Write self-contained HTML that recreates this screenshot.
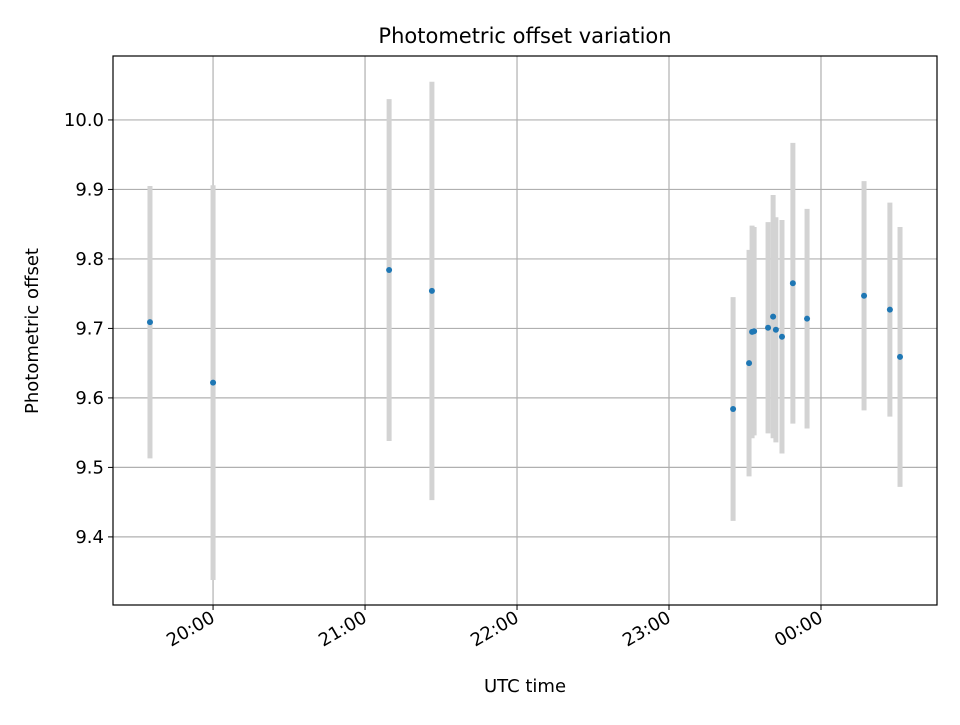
<!DOCTYPE html>
<html><head><meta charset="utf-8"><style>
body{margin:0;background:#fff;font-family:"Liberation Sans","DejaVu Sans",sans-serif}
svg text{font-family:"DejaVu Sans","Liberation Sans",sans-serif;fill:#000}
</style></head><body>
<svg id="chart" width="960" height="720" xmlns="http://www.w3.org/2000/svg">
<rect width="960" height="720" fill="#fff"/>
<g id="grid"></g><g id="bars"></g><g id="pts"></g><g id="axes"></g>
<text x="525" y="43" style="font-size:21px" text-anchor="middle">Photometric offset variation</text>
<text x="525" y="692" style="font-size:18px" text-anchor="middle">UTC time</text>
<text transform="translate(38,331) rotate(-90)" style="font-size:18px" text-anchor="middle">Photometric offset</text>
</svg>
<script>
// minutes relative to 20:00 UTC
const times=[-24.9,0,69.5,86.4,205.3,211.6,212.8,213.6,219.1,221.1,222.2,224.6,228.9,234.5,257.0,267.2,271.2];
const offsets=[9.709,9.622,9.784,9.754,9.584,9.650,9.695,9.696,9.701,9.717,9.698,9.688,9.765,9.714,9.747,9.727,9.659];
const errors=[0.196,0.284,0.246,0.301,0.161,0.163,0.153,0.150,0.152,0.175,0.162,0.168,0.202,0.158,0.165,0.154,0.187];
const xTicks=[0,60,120,180,240];
const xTickLabels=["20:00","21:00","22:00","23:00","00:00"];
const yTicks=[9.4,9.5,9.6,9.7,9.8,9.9,10.0];
const L=113,R=937,T=56,B=605;
const xMin=-39.5,xMax=285.8,yMin=9.302,yMax=10.092;
const X=v=>L+(v-xMin)/(xMax-xMin)*(R-L);
const Y=v=>B-(v-yMin)/(yMax-yMin)*(B-T);
const NS="http://www.w3.org/2000/svg";
function mk(p,tag,attrs){const e=document.createElementNS(NS,tag);for(const k in attrs)e.setAttribute(k,attrs[k]);document.getElementById(p).appendChild(e);return e;}
xTicks.forEach((t,i)=>{
 const g=mk('grid','line',{x1:X(t),x2:X(t),y1:T,y2:B,stroke:'#b0b0b0','stroke-width':1.2});
 
 
 const tk=mk('axes','line',{x1:X(t),x2:X(t),y1:B,y2:B+5,stroke:'#000'});
 
 
 const tx=mk('axes','text',{transform:`translate(${X(t)+3},${B+16}) rotate(-30)`,style:'font-size:18px','text-anchor':'end'});
 
 
 tx.textContent=xTickLabels[i];
});
yTicks.forEach(v=>{
 const g=mk('grid','line',{x1:L,x2:R,y1:Y(v),y2:Y(v),stroke:'#b0b0b0','stroke-width':1.2});
 
 
 const tk=mk('axes','line',{x1:L-5,x2:L,y1:Y(v),y2:Y(v),stroke:'#000'});
 
 
 const tx=mk('axes','text',{x:L-9,y:Y(v)+6,style:'font-size:18px','text-anchor':'end'});
 
 
 tx.textContent=v.toFixed(1);
});
const fr=mk('axes','rect',{x:L,y:T,width:R-L,height:B-T,fill:'none',stroke:'#000','stroke-width':1.2});


times.forEach((t,i)=>{
 const b=mk('bars','line',{x1:X(t),x2:X(t),y1:Y(offsets[i]+errors[i]),y2:Y(offsets[i]-errors[i]),stroke:'#d3d3d3','stroke-width':5});
 
 
 const c=mk('pts','circle',{cx:X(t),cy:Y(offsets[i]),r:3,fill:'#1f77b4'});
 
 
});
</script>
</body></html>
